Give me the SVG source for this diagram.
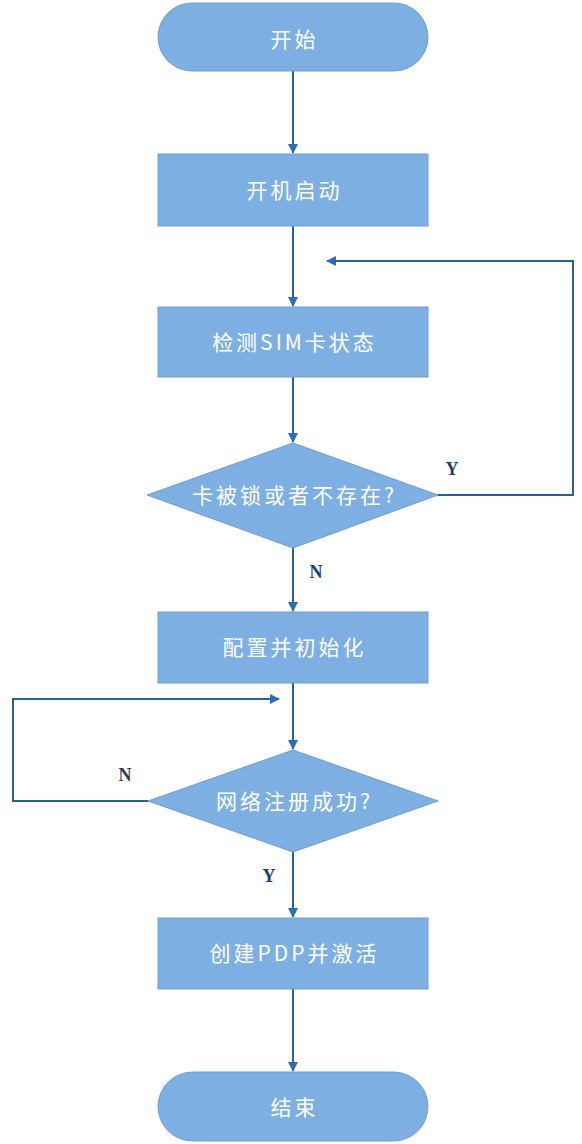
<svg xmlns="http://www.w3.org/2000/svg" width="582" height="1144" viewBox="0 0 582 1144">
<style>
.shape{fill:#7eafe2;stroke:#6d9fd4;stroke-width:1}
.t{fill:#ffffff;font-family:"Noto Sans CJK SC","Liberation Sans",sans-serif;font-size:21px;letter-spacing:3px;text-anchor:middle;dominant-baseline:central}
.c{fill:none;stroke:#2b5f95;stroke-width:2}
.lbl{fill:#1d3f6e;font-family:"Liberation Serif",serif;font-weight:bold;font-size:18px;text-anchor:middle;dominant-baseline:central}
</style>
<defs>
<marker id="ah" viewBox="0 0 10 10" refX="9" refY="5" markerWidth="10" markerHeight="10" orient="auto" markerUnits="userSpaceOnUse">
<path d="M0,0 L10,5 L0,10 z" fill="#2e6db3"/>
</marker>
</defs>
<rect width="582" height="1144" fill="#ffffff"/>
<g id="connectors">
<line class="c" x1="293" y1="71" x2="293" y2="153" marker-end="url(#ah)"/>
<line class="c" x1="293" y1="226" x2="293" y2="306" marker-end="url(#ah)"/>
<line class="c" x1="293" y1="377" x2="293" y2="442" marker-end="url(#ah)"/>
<polyline class="c" points="438,495 573,495 573,261 327,261" marker-end="url(#ah)"/>
<line class="c" x1="293" y1="548" x2="293" y2="611" marker-end="url(#ah)"/>
<line class="c" x1="293" y1="683" x2="293" y2="749" marker-end="url(#ah)"/>
<polyline class="c" points="148,801 13,801 13,699 279,699" marker-end="url(#ah)"/>
<line class="c" x1="293" y1="852" x2="293" y2="917" marker-end="url(#ah)"/>
<line class="c" x1="293" y1="989" x2="293" y2="1071" marker-end="url(#ah)"/>
<text class="lbl" x="452" y="469">Y</text>
<text class="lbl" x="316" y="572">N</text>
<text class="lbl" x="125" y="775">N</text>
<text class="lbl" x="269" y="876">Y</text>
</g>
<g id="start">
<rect class="shape" x="158" y="3" width="270" height="68" rx="34" ry="34"/>
<text class="t" x="294.5" y="38">开始</text>
</g>
<g id="boot">
<rect class="shape" x="158" y="154" width="270" height="72"/>
<text class="t" x="294.5" y="189">开机启动</text>
</g>
<g id="check">
<rect class="shape" x="158" y="307" width="270" height="70"/>
<text class="t" x="294.5" y="341">检测SIM卡状态</text>
</g>
<g id="decision1">
<polygon class="shape" points="293,443 438,495 293,548 147,495"/>
<text class="t" x="294.5" y="494">卡被锁或者不存在?</text>
</g>
<g id="config">
<rect class="shape" x="158" y="612" width="270" height="71"/>
<text class="t" x="294.5" y="646">配置并初始化</text>
</g>
<g id="decision2">
<polygon class="shape" points="293,750 438,801 293,852 148,801"/>
<text class="t" x="294.5" y="800">网络注册成功?</text>
</g>
<g id="pdp">
<rect class="shape" x="158" y="918" width="270" height="71"/>
<text class="t" x="294.5" y="952">创建PDP并激活</text>
</g>
<g id="end">
<rect class="shape" x="158" y="1072" width="270" height="69" rx="34.5" ry="34.5"/>
<text class="t" x="294.5" y="1106">结束</text>
</g>
</svg>
